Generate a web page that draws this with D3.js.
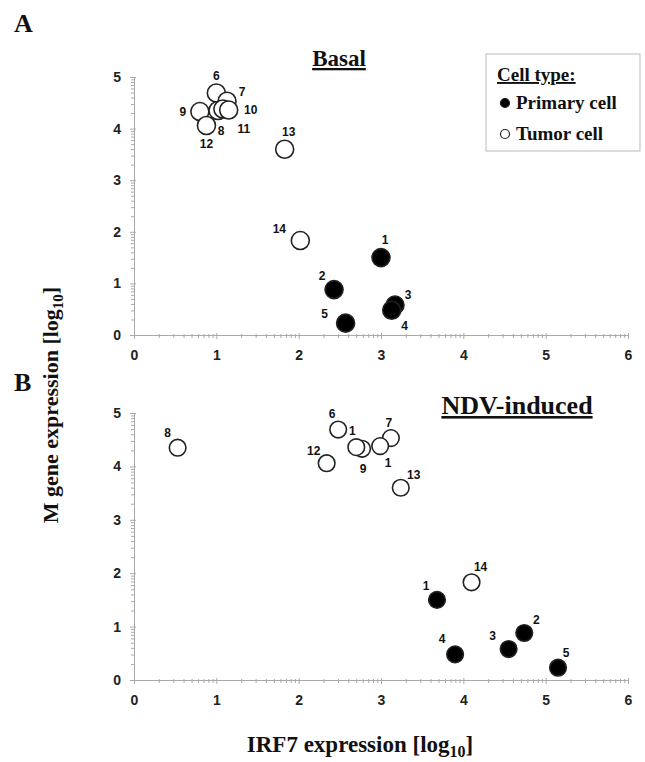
<!DOCTYPE html>
<html>
<head>
<meta charset="UTF-8">
<title>IRF7 vs M gene</title>
<script src="https://cdn.jsdelivr.net/npm/d3@7"></script>
<style>
  body { margin: 0; background: #fff; }
  .tick text { font-family: "Liberation Sans", Arial, sans-serif; font-weight: bold; font-size: 14px; fill: #222; }
  .domain, .tick line { stroke: #aaa; }
  .pt-label { font-family: "Liberation Sans", Arial, sans-serif; font-weight: bold; font-size: 12px; fill: #111; }
  .serif { font-family: "Liberation Serif", "Times New Roman", serif; font-weight: bold; fill: #111; }
</style>
</head>
<body>
<svg id="chart" width="645" height="762"></svg>
<script>
// data
var ids = [1, 2, 3, 4, 5, 6, 7, 8, 9, 11, 10, 12, 13, 14];
var cellType = ["primary", "primary", "primary", "primary", "primary",
                "tumor", "tumor", "tumor", "tumor", "tumor", "tumor", "tumor", "tumor", "tumor"];
var mExpr = [1.50, 0.88, 0.58, 0.48, 0.23, 4.69, 4.53, 4.35, 4.33, 4.38, 4.36, 4.06, 3.60, 1.83];
var irf7Basal = [3.00, 2.43, 3.17, 3.13, 2.57, 1.00, 1.13, 1.02, 0.80, 1.08, 1.15, 0.88, 1.83, 2.02];
var irf7Induced = [3.68, 4.74, 4.55, 3.90, 5.15, 2.48, 3.12, 0.53, 2.77, 2.99, 2.70, 2.34, 3.24, 4.10];
// labels as printed (10 and 11 are clipped to "1" in panel B)
var labelsBasal = ["1", "2", "3", "4", "5", "6", "7", "8", "9", "11", "10", "12", "13", "14"];
var labelsInduced = ["1", "2", "3", "4", "5", "6", "7", "8", "9", "1", "1", "12", "13", "14"];
var xTicks = [0, 1, 2, 3, 4, 5, 6];
var yTicks = [0, 1, 2, 3, 4, 5];

// label offsets (px) by id
var offA = {1: [4, -18], 2: [-12, -14], 3: [13, -10], 4: [13, 16], 5: [-21, -9],
            6: [0, -17], 7: [15, -9], 8: [3, 20], 9: [-17, 0], 10: [22, 0], 11: [21, 20],
            12: [0, 18], 13: [4, -17], 14: [-21, -12]};
var offB = {1: [-11, -14], 2: [12, -13], 3: [-16, -13], 4: [-13, -15], 5: [8, -15],
            6: [-6, -16], 7: [-2, -15], 8: [-10, -15], 9: [1, 20], 10: [-4, -16], 11: [8, 17],
            12: [-13, -12], 13: [13, -13], 14: [9, -15]};

var svg = d3.select("#chart");

var x = d3.scaleLinear().domain([0, 6]).range([134, 628]);

// log-style minor ticks inside each decade
var minor = [];
for (var d = 0; d < 6; d++) {
    for (var k = 2; k <= 9; k++) minor.push(d + Math.log10(k));
}

function panel(y, xs, labels, offs, r, title, titleX, titleY, titleSize) {
    var y0 = y.range()[0];
    var g = svg.append("g");

    // minor ticks
    g.append("g").attr("transform", "translate(0," + y0 + ")")
        .call(d3.axisBottom(x).tickValues(minor).tickSize(3).tickFormat(""))
        .call(function (a) { a.select(".domain").remove(); a.selectAll("line").attr("y1", -1).attr("y2", 3); });
    g.append("g").attr("transform", "translate(" + x(0) + ",0)")
        .call(d3.axisLeft(y).tickValues(minor.filter(function (v) { return v < 5; })).tickSize(3).tickFormat(""))
        .call(function (a) { a.select(".domain").remove(); a.selectAll("line").attr("x1", 1).attr("x2", -3); });

    // major axes
    g.append("g").attr("transform", "translate(0," + y0 + ")")
        .call(d3.axisBottom(x).tickValues(xTicks).tickSize(4).tickSizeOuter(0).tickPadding(11).tickFormat(d3.format("d")))
        .call(function (a) { a.selectAll("line").attr("y1", -2); });
    g.append("g").attr("transform", "translate(" + x(0) + ",0)")
        .call(d3.axisLeft(y).tickValues(yTicks).tickSize(4).tickSizeOuter(0).tickPadding(9).tickFormat(d3.format("d")))
        .call(function (a) { a.selectAll("line").attr("x1", 2); });

    var pts = ids.map(function (id, i) {
        return {id: id, type: cellType[i], x: xs[i], y: mExpr[i], label: labels[i]};
    });

    g.selectAll(".pt-label").data(pts).enter().append("text")
        .attr("class", "pt-label")
        .attr("x", function (p) { return x(p.x) + offs[p.id][0]; })
        .attr("y", function (p) { return y(p.y) + offs[p.id][1]; })
        .attr("text-anchor", "middle")
        .attr("dominant-baseline", "central")
        .text(function (p) { return p.label; });

    g.selectAll("circle").data(pts).enter().append("circle")
        .attr("cx", function (p) { return x(p.x); })
        .attr("cy", function (p) { return y(p.y); })
        .attr("r", r)
        .attr("fill", function (p) { return p.type === "primary" ? "#000" : "#fff"; })
        .attr("stroke", "#222")
        .attr("stroke-width", 1.6);

    g.append("text").attr("class", "serif")
        .attr("x", titleX).attr("y", titleY)
        .attr("text-anchor", "middle")
        .attr("font-size", titleSize)
        .attr("text-decoration", "underline")
        .text(title);
}

var yA = d3.scaleLinear().domain([0, 5]).range([335, 77]);
var yB = d3.scaleLinear().domain([0, 5]).range([680, 413]);

panel(yA, irf7Basal, labelsBasal, offA, 9, "Basal", 339, 66, 23);
panel(yB, irf7Induced, labelsInduced, offB, 8.3, "NDV-induced", 517, 414, 26);

// panel letters
svg.append("text").attr("class", "serif").attr("x", 14).attr("y", 32).attr("font-size", 26).text("A");
svg.append("text").attr("class", "serif").attr("x", 14).attr("y", 391).attr("font-size", 26).text("B");

// axis titles
var yl = svg.append("text").attr("class", "serif").attr("font-size", 22)
    .attr("text-anchor", "middle")
    .attr("transform", "translate(58,405) rotate(-90)");
yl.append("tspan").text("M gene expression [log");
yl.append("tspan").attr("font-size", 15).attr("dy", 5).text("10");
yl.append("tspan").attr("dy", -5).text("]");

var xl = svg.append("text").attr("class", "serif").attr("font-size", 23)
    .attr("text-anchor", "middle")
    .attr("x", 360).attr("y", 752);
xl.append("tspan").text("IRF7 expression [log");
xl.append("tspan").attr("font-size", 16).attr("dy", 5).text("10");
xl.append("tspan").attr("dy", -5).text("]");

// legend
var lg = svg.append("g");
lg.append("rect").attr("x", 486).attr("y", 54).attr("width", 154).attr("height", 97)
    .attr("fill", "#fff").attr("stroke", "#bbb").attr("stroke-width", 1);
lg.append("text").attr("class", "serif").attr("x", 497).attr("y", 81).attr("font-size", 19)
    .attr("text-decoration", "underline").text("Cell type:");
var legendItems = [{label: "Primary cell", fill: "#000"}, {label: "Tumor cell", fill: "#fff"}];
legendItems.forEach(function (it, i) {
    var ly = 103 + i * 31;
    lg.append("circle").attr("cx", 505).attr("cy", ly).attr("r", 4.5)
        .attr("fill", it.fill).attr("stroke", "#222").attr("stroke-width", 1.2);
    lg.append("text").attr("class", "serif").attr("x", 516).attr("y", ly + 6).attr("font-size", 19).text(it.label);
});
</script>
</body>
</html>
